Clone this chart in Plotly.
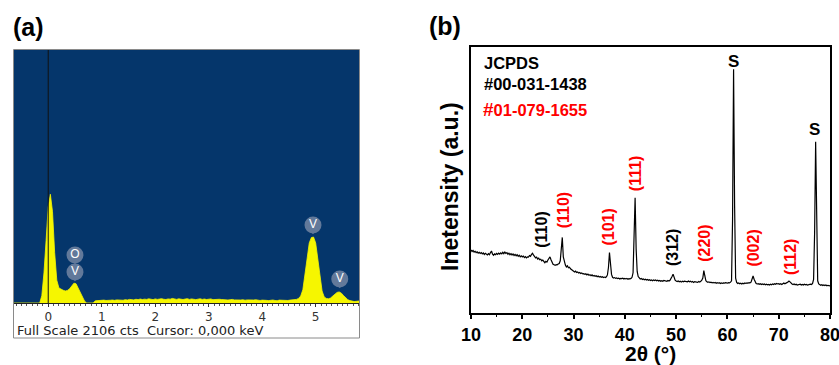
import numpy as np
import plotly.graph_objects as go

W, H = 839, 365

# ---------------- Panel (a): EDS spectrum ----------------
eds_start_kev = -0.64
eds_step_kev = 0.04
eds_counts = [
    0, 0, 0, 0, 0, 0, 0, 0, 0, 0, 0, 0, 0,
    60, 250, 520, 800, 905, 760, 420, 190, 125, 112,
    106, 100, 105, 118, 140, 165, 160, 125, 85, 45,
    15, 0, 0, 0, 0, 18,
    20, 22, 18, 24, 21, 19, 23, 25, 22, 26,
    24, 27, 23, 28, 25, 30, 27, 26, 31, 28,
    33, 29, 32, 30, 35, 31, 28, 34, 30, 33,
    36, 31, 29, 34, 32, 38, 33, 30, 35, 31,
    29, 33, 36, 30, 34, 31, 28, 32, 35, 30,
    33, 29, 31, 34, 28, 30, 27, 31, 29, 26,
    28, 25, 27, 30, 26, 24, 28, 25, 27, 23,
    26, 24, 22, 25, 27, 23, 21, 24, 26, 22,
    20, 23, 25, 21, 19, 24, 22, 20, 23, 21,
    24, 26,
    25, 30, 38, 58, 110, 230, 380, 500, 545, 549,
    500, 380, 220, 100, 50, 38, 35, 42, 58, 75,
    88, 92, 82, 62, 42, 28, 20, 15, 12, 14,
    18, 18,
]
eds_kev = eds_start_kev + eds_step_kev * np.arange(len(eds_counts))
eds_full_scale = 2106
eds_range = [-0.64, 5.81]
eds_ticks = [0, 1, 2, 3, 4, 5]

bubble_labels = ["O", "V", "V", "V"]
bubble_kev = [0.5, 0.5, 4.95, 5.45]
bubble_counts = [399, 258, 649, 200]

# ---------------- Panel (b): XRD pattern ----------------
xrd_start = 10.0
xrd_step = 0.2
xrd_intensity = [
    23.6, 23.0, 23.4, 22.8, 23.1, 22.6, 22.9, 22.4, 22.7, 22.3,
    22.6, 22.1, 22.5, 21.9, 22.3, 22.0, 21.7, 22.2, 21.8, 22.6,
    23.2, 22.0, 21.6, 22.1, 21.8, 22.3, 21.9, 22.4, 22.0, 22.5,
    22.1, 22.7, 22.2, 22.8, 22.3, 22.6, 22.0, 22.4, 21.8, 22.2,
    21.7, 22.1, 21.5, 21.9, 21.4, 21.8, 21.2, 21.6, 21.0, 21.4,
    21.0, 21.3, 20.7, 21.1, 20.6, 21.0, 20.9, 21.5, 21.2, 21.9,
    22.3, 21.6, 21.0, 20.6, 20.9, 20.2, 20.5, 19.9, 20.1, 19.5,
    19.8, 19.2, 18.8, 19.3, 19.0, 19.8, 20.6, 21.0, 19.9, 18.7,
    18.2, 18.0, 17.8, 18.1, 18.0, 18.3, 18.5, 19.5, 24.0, 28.3,
    21.0, 18.6, 17.9, 17.2, 17.6, 16.9, 17.1, 16.5, 16.2, 16.0,
    15.6, 15.3, 15.6, 15.1, 15.3, 14.9, 15.1, 14.7, 14.9, 14.6,
    14.7, 14.4, 14.6, 14.2, 14.5, 14.1, 14.3, 13.9, 14.2, 13.8,
    14.0, 13.7, 13.9, 13.5, 13.8, 13.4, 13.6, 13.3, 13.5, 13.2,
    13.4, 13.2, 13.5, 14.2, 17.0, 22.6, 18.5, 14.4, 13.3, 13.0,
    13.2, 12.9, 13.1, 12.8, 13.0, 12.7, 12.9, 12.8, 13.0, 12.7,
    12.9, 12.7, 12.9, 12.6, 12.8, 12.7, 12.9, 13.3, 15.0, 26.0,
    43.2, 24.0, 15.5, 13.6, 13.0, 12.7, 12.9, 12.5, 12.7, 12.4,
    12.6, 12.3, 12.5, 12.2, 12.4, 12.1, 12.3, 12.0, 12.3, 12.1,
    12.3, 12.0, 12.2, 11.9, 12.1, 11.8, 12.0, 11.8, 12.1, 11.9,
    12.0, 11.8, 12.1, 11.9, 12.2, 12.7, 13.6, 14.5, 13.2, 12.2,
    11.9, 11.7, 11.9, 11.6, 11.8, 11.5, 11.8, 11.6, 11.9, 11.7,
    11.8, 11.6, 11.9, 11.6, 11.8, 11.5, 11.7, 11.4, 11.7, 11.5,
    11.6, 11.4, 11.7, 11.5, 11.8, 12.2, 13.0, 15.8, 13.8, 12.0,
    11.6, 11.4, 11.6, 11.3, 11.5, 11.2, 11.4, 11.2, 11.4, 11.1,
    11.3, 11.1, 11.3, 11.0, 11.2, 11.0, 11.2, 11.1, 11.3, 11.2,
    11.1, 11.3, 11.2, 11.5, 12.0, 35.0, 91.5, 40.0, 13.0, 11.4,
    11.0, 11.2, 10.9, 11.1, 10.8, 11.1, 10.9, 11.2, 11.0, 11.2,
    11.1, 11.3, 11.2, 11.5, 12.4, 13.8, 12.6, 11.5, 11.0, 10.8,
    10.9, 10.7, 10.9, 10.6, 10.8, 10.6, 10.8, 10.5, 10.7, 10.5,
    10.6, 10.4, 10.7, 10.5, 10.8, 10.6, 10.9, 10.7, 11.0, 10.8,
    10.9, 10.7, 10.9, 10.6, 10.8, 11.2, 10.9, 11.0, 11.3, 11.5,
    11.9, 11.6, 11.1, 10.8, 10.6, 10.8, 10.5, 10.7, 10.4, 10.6,
    10.5, 10.7, 10.4, 10.6, 10.4, 10.7, 10.5, 10.6, 10.4, 10.6,
    10.5, 10.7, 10.6, 11.0, 12.5, 30.0, 64.3, 28.0, 12.0, 10.8,
    10.5, 10.3, 10.5, 10.2, 10.4, 10.2, 10.4, 10.1, 10.3, 10.2,
    10.1,
]
xrd_two_theta = xrd_start + xrd_step * np.arange(len(xrd_intensity))

hkl_labels = ["(110)", "(110)", "(101)", "(111)", "(312)", "(220)", "(002)", "(112)"]
hkl_colors = ["black", "red", "red", "red", "black", "red", "red", "red"]
hkl_pos = [23.8, 28.0, 36.8, 42.0, 49.2, 55.4, 64.9, 72.2]
hkl_level = [31.1, 38.6, 32.2, 52.5, 24.3, 26.2, 24.3, 20.9]
s_pos = [61.1, 77.0]
s_level = [94.6, 68.7]

xrd_ticks = [10, 20, 30, 40, 50, 60, 70, 80]


def px(x):
    return x / W


def py(y):
    return 1 - y / H


ARIAL = "Arial, Liberation Sans, sans-serif"
EDSFONT = "DejaVu Sans, sans-serif"
EDS_BLUE = "#05366b"
EDS_YELLOW = "#f6f600"
BUBBLE = "#62799a"

fig = go.Figure()

fig.add_trace(go.Scatter(
    x=eds_kev, y=eds_counts, mode="lines",
    line=dict(color=EDS_YELLOW, width=0.8),
    fill="tozeroy", fillcolor=EDS_YELLOW,
    xaxis="x", yaxis="y", hoverinfo="skip", showlegend=False,
))
# bubble stems
fig.add_trace(go.Scatter(
    x=bubble_kev, y=[c - 48 for c in bubble_counts], mode="markers",
    marker=dict(symbol="triangle-down", size=7, color=BUBBLE),
    xaxis="x", yaxis="y", hoverinfo="skip", showlegend=False,
))
fig.add_trace(go.Scatter(
    x=bubble_kev, y=bubble_counts, mode="markers+text",
    marker=dict(symbol="circle", size=17, color=BUBBLE, line=dict(width=0)),
    text=bubble_labels, textposition="middle center",
    textfont=dict(family=ARIAL, size=12, color="white"),
    xaxis="x", yaxis="y", hoverinfo="skip", showlegend=False,
))

fig.add_trace(go.Scatter(
    x=xrd_two_theta, y=xrd_intensity, mode="lines",
    line=dict(color="black", width=1.2),
    xaxis="x2", yaxis="y2", hoverinfo="skip", showlegend=False,
))

shapes = [
    dict(type="rect", xref="x domain", yref="y domain", x0=0, x1=1, y0=0, y1=1,
         fillcolor=EDS_BLUE, line=dict(width=0), layer="below"),
    dict(type="rect", xref="paper", yref="paper", x0=px(13.5), x1=px(359.5),
         y0=py(338), y1=py(49.5), line=dict(color="#8a8a8a", width=1),
         fillcolor="rgba(0,0,0,0)", layer="above"),
    dict(type="line", xref="x", yref="y domain", x0=0, x1=0, y0=0, y1=1,
         line=dict(color="#111111", width=1), layer="above"),
]


def ann(text, x, y, size, color="black", family=ARIAL, xanchor="center", **kw):
    return dict(text=text, xref="paper", yref="paper", x=px(x), y=py(y),
                xanchor=xanchor, yanchor="middle", showarrow=False,
                font=dict(family=family, size=size, color=color), **kw)


annotations = [
    ann("<b>(a)</b>", 28, 27, 25),
    ann("<b>(b)</b>", 445, 26, 25),
    ann("Full Scale %d cts&nbsp;&nbsp;Cursor: 0,000 keV" % eds_full_scale,
        15, 330.5, 13, color="#222222", family=EDSFONT, xanchor="left"),
    ann("<b>JCPDS</b>", 482, 63, 16.5, xanchor="left"),
    ann("<b>#00-031-1438</b>", 482, 84, 16.5, xanchor="left"),
    ann("<b><span style='font-size:19px'>#</span>01-079-1655</b>", 481, 109, 16.5,
        color="red", xanchor="left"),
    ann("<b>Inetensity (a.u.)</b>", 450, 187, 23, textangle=-90),
    ann("<b>2θ (°)</b>", 650, 353, 21),
]
for lab, col, xx, yy in zip(hkl_labels, hkl_colors, hkl_pos, hkl_level):
    annotations.append(dict(text="<b>%s</b>" % lab, x=xx, y=yy, xref="x2", yref="y2",
                            xanchor="center", yanchor="middle",
                            textangle=-90, showarrow=False,
                            font=dict(family=ARIAL, size=16, color=col)))
for xx, yy in zip(s_pos, s_level):
    annotations.append(dict(text="<b>S</b>", x=xx, y=yy, xref="x2", yref="y2",
                            xanchor="center", yanchor="middle",
                            showarrow=False, font=dict(family=ARIAL, size=17, color="black")))

fig.update_layout(
    template="none",
    width=W, height=H, autosize=False,
    margin=dict(l=0, r=0, t=0, b=0, pad=0),
    paper_bgcolor="white", plot_bgcolor="white",
    showlegend=False,
    shapes=shapes, annotations=annotations,
    xaxis=dict(domain=[px(14), px(359)], range=eds_range, anchor="y", automargin=False,
               showgrid=False, zeroline=False, showline=True, linecolor="#222222",
               linewidth=1, ticks="outside", ticklen=3, tickcolor="#333333",
               tickvals=eds_ticks,
               minor=dict(dtick=0.1, tick0=0, ticks="outside", ticklen=2,
                          tickcolor="#555555", showgrid=False),
               tickfont=dict(family=EDSFONT, size=12, color="#333333")),
    yaxis=dict(domain=[py(303), py(50)], range=[0, eds_full_scale], anchor="x",
               automargin=False, showgrid=False, zeroline=False,
               showticklabels=False, showline=False, ticks=""),
    xaxis2=dict(domain=[px(471), px(830)], range=[10, 80], anchor="y2", automargin=False,
                showgrid=False, zeroline=False, showline=True, mirror=True,
                linecolor="black", linewidth=1.5, ticks="outside", ticklen=5,
                tickwidth=1.5, tickcolor="black", tickvals=xrd_ticks,
                ticktext=["<b>%d</b>" % t for t in xrd_ticks],
                ticklabeloverflow="allow",
                minor=dict(dtick=5, tick0=5, ticks="outside", ticklen=3,
                           tickwidth=1.2, tickcolor="black", showgrid=False),
                tickfont=dict(family=ARIAL, size=18, color="black")),
    yaxis2=dict(domain=[py(312.7), py(46.7)], range=[0, 100], anchor="x2",
                automargin=False, showgrid=False, zeroline=False, showline=True,
                mirror=True, linecolor="black", linewidth=1.5,
                showticklabels=False, ticks=""),
)

fig.write_html("out.html",
               config={"displayModeBar": False},
               post_script="document.body.style.margin='0px';"
                           "document.body.style.overflow='hidden';")
